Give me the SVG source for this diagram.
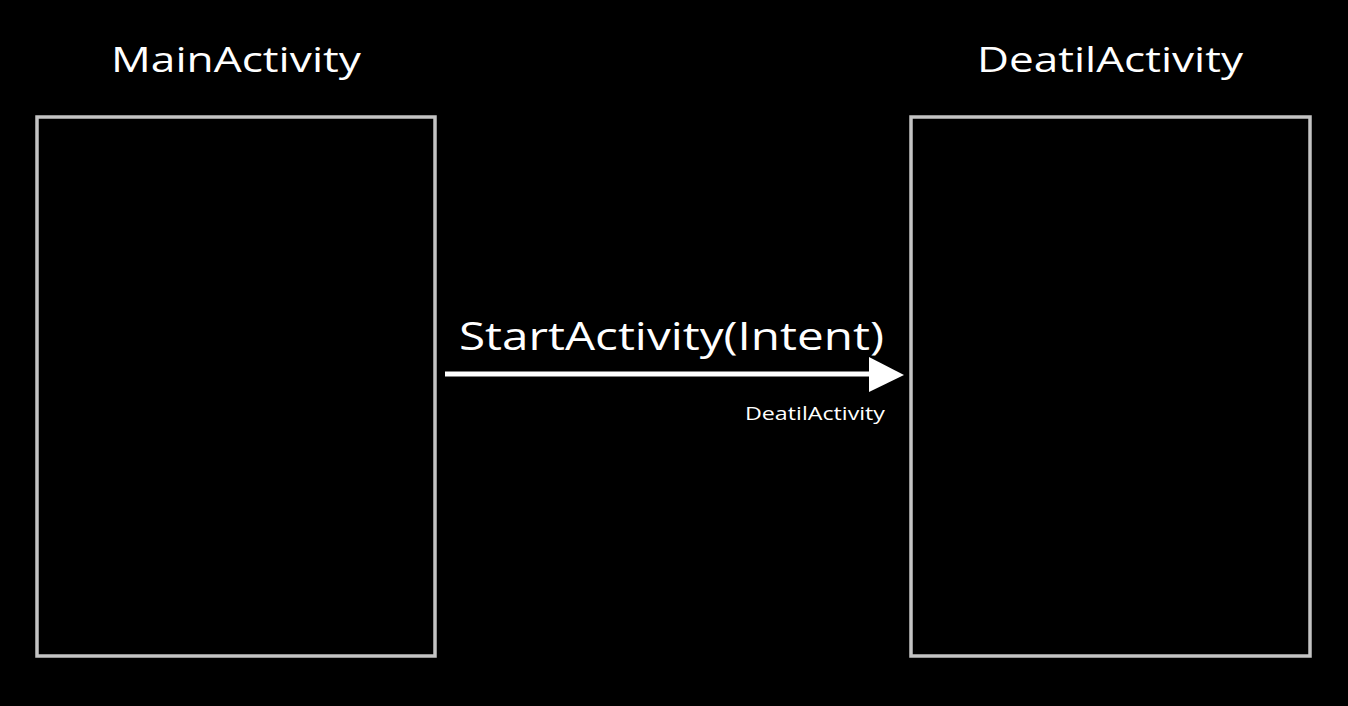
<svg xmlns="http://www.w3.org/2000/svg" width="1348" height="706" viewBox="0 0 1348 706">
<style>
.box{fill:none;stroke:#c4c4c4;stroke-width:3.5}
.t{font-family:"Open Sans","Liberation Sans",sans-serif;fill:#ffffff}
.conn{stroke:#ffffff;stroke-width:5;fill:none}
</style>
<rect x="0" y="0" width="1348" height="706" fill="#000000"/>
<g id="main">
<rect class="box" x="37" y="117" width="398" height="539"/>
<text class="t" x="236" y="72" font-size="34" text-anchor="middle" textLength="250" lengthAdjust="spacingAndGlyphs">MainActivity</text>
</g>
<g id="detail">
<rect class="box" x="911" y="117" width="399" height="539"/>
<text class="t" x="1110" y="72" font-size="34" text-anchor="middle" textLength="266" lengthAdjust="spacingAndGlyphs">DeatilActivity</text>
</g>
<g id="connectors">
<line class="conn" x1="445" y1="374" x2="872" y2="374"/>
<path d="M869,357 L904,375 L869,392 Z" fill="#ffffff"/>
<text class="t" x="459" y="350" font-size="38" textLength="425" lengthAdjust="spacingAndGlyphs">StartActivity(Intent)</text>
<text class="t" x="745" y="420" font-size="18" textLength="140" lengthAdjust="spacingAndGlyphs">DeatilActivity</text>
</g>
</svg>
